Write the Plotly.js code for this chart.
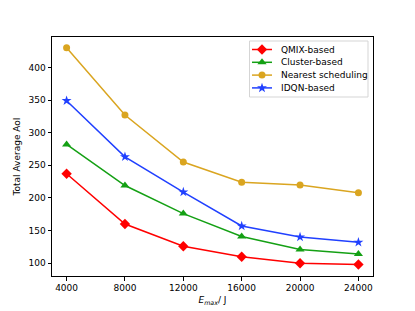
<!DOCTYPE html>
<html>
<head>
<meta charset="utf-8">
<script src="https://cdn.plot.ly/plotly-3.0.1.min.js"></script>
<style>html,body{margin:0;padding:0;background:#fff;}#chart{width:415px;height:311px;}</style>
</head>
<body>
<div id="chart"></div>
<script>
const emax = [4000, 8000, 12000, 16000, 20000, 24000];
const qmix = [237, 160, 126, 110, 100, 98];
const cluster = [282, 219, 176, 141, 121, 114];
const nearest = [430, 327, 255, 224, 220, 208];
const idqn = [349, 263, 209, 157, 140, 132];
const names = ["QMIX-based", "Cluster-based", "Nearest scheduling", "IDQN-based"];
const xTicks = [4000, 8000, 12000, 16000, 20000, 24000];
const yTicks = [100, 150, 200, 250, 300, 350, 400];

const font = {family: "DejaVu Sans", size: 9, color: "#000"};
const styles = [
  {color: "#ff0000", symbol: "diamond", size: 8},
  {color: "#14a014", symbol: "triangle-up", size: 8},
  {color: "#daa520", symbol: "circle", size: 7},
  {color: "#2040ff", symbol: "star", size: 7.5}
];
const series = [qmix, cluster, nearest, idqn];

const data = series.map((y, i) => ({
  x: emax, y: y, name: names[i], type: "scatter", mode: "lines+markers",
  line: {color: styles[i].color, width: 1.5},
  marker: {color: styles[i].color, symbol: styles[i].symbol, size: styles[i].size, line: {width: 0}},
  showlegend: false
}));

// custom compact legend (matplotlib-like), drawn on an overlay axis in pixel units
const W = 415, H = 311, L = 52, R = 42, T = 37, B = 35;
const pw = W - L - R, ph = H - T - B;
const px = v => (v - L) / pw;      // pixel -> paper x
const py = v => 1 - (v - T) / ph;  // pixel -> paper y
const rowY = [49.5, 62.3, 75.1, 87.9];
const annotations = [];
names.forEach((n, i) => {
  data.push({
    x: [252, 272], y: [rowY[i], rowY[i]], xaxis: "x2", yaxis: "y2",
    type: "scatter", mode: "lines", showlegend: false, hoverinfo: "skip",
    line: {color: styles[i].color, width: 1.5}
  });
  data.push({
    x: [262], y: [rowY[i]], xaxis: "x2", yaxis: "y2",
    type: "scatter", mode: "markers", showlegend: false, hoverinfo: "skip",
    marker: {color: styles[i].color, symbol: styles[i].symbol, size: styles[i].size, line: {width: 0}}
  });
  annotations.push({
    xref: "paper", yref: "paper", x: px(279), y: py(rowY[i]),
    xanchor: "left", yanchor: "middle", showarrow: false, text: n,
    font: {family: "DejaVu Sans", size: 9, color: "#000"}
  });
});

const layout = {
  width: W, height: H,
  margin: {l: L, r: R, t: T, b: B},
  paper_bgcolor: "#fff", plot_bgcolor: "#fff",
  font: font,
  showlegend: false,
  annotations: annotations,
  shapes: [{type: "rect", xref: "paper", yref: "paper",
    x0: px(249.5), x1: px(368), y0: py(41), y1: py(97),
    line: {color: "#d5d5d5", width: 1}, fillcolor: "rgba(255,255,255,0.8)", layer: "below"}],
  xaxis: {range: [3000, 25000], tickvals: xTicks, ticktext: xTicks.map(String),
    showgrid: false, zeroline: false, showline: true, mirror: true,
    linecolor: "#000", linewidth: 1, ticks: "outside", ticklen: 3.5, tickcolor: "#000",
    tickfont: font,
    title: {text: "<i>E</i><sub><i>max</i></sub>/ J", font: font, standoff: 4}},
  yaxis: {range: [80.4, 446.6], tickvals: yTicks, ticktext: yTicks.map(String),
    showgrid: false, zeroline: false, showline: true, mirror: true,
    linecolor: "#000", linewidth: 1, ticks: "outside", ticklen: 3.5, tickcolor: "#000",
    tickfont: font,
    title: {text: "Total Average AoI", font: font, standoff: 6}},
  xaxis2: {overlaying: "x", range: [L, W - R], visible: false, fixedrange: true},
  yaxis2: {overlaying: "y", range: [H - B, T], visible: false, fixedrange: true}
};
Plotly.newPlot("chart", data, layout, {displayModeBar: false, staticPlot: true});
</script>
</body>
</html>
